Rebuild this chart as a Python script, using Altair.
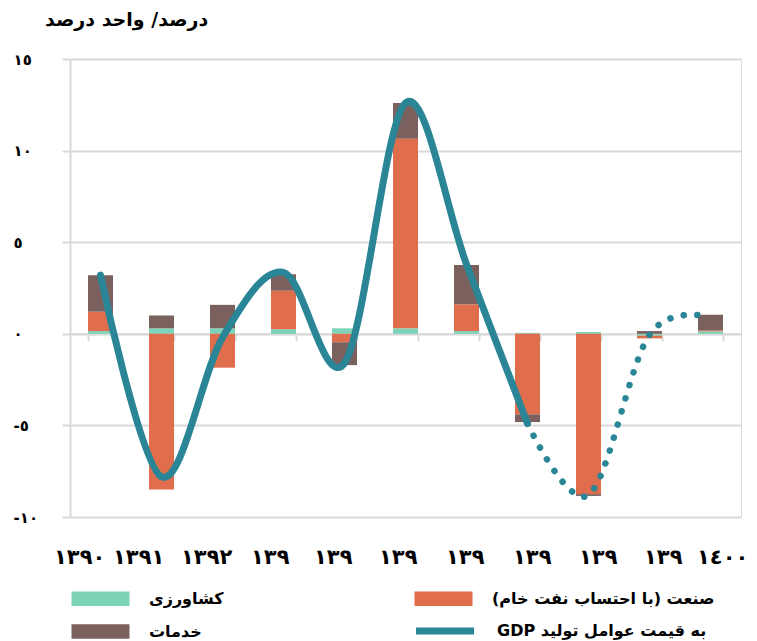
import altair as alt
import pandas as pd

# ---- data ----
years = ["1390", "1391", "1392", "1393", "1394", "1395", "1396", "1397", "1398", "1399", "1400"]
year_labels = ["١٣٩٠", "١٣٩١", "١٣٩٢", "١٣٩", "١٣٩", "١٣٩", "١٣٩", "١٣٩", "١٣٩", "١٣٩", "١٤٠٠"]
agriculture = [0.15, 0.3, 0.3, 0.25, 0.3, 0.3, 0.15, 0.05, 0.1, -0.1, 0.13]
industry = [1.05, -8.5, -1.85, 2.1, -0.46, 10.35, 1.46, -4.4, -8.75, -0.15, 0.05]
services = [2.0, 0.7, 1.28, 0.9, -1.25, 1.95, 2.14, -0.42, -0.1, 0.15, 0.86]
gdp = [3.2, -7.8, -0.2, 3.35, -1.6, 12.6, 3.8, -4.9, -8.8, -0.05, 0.9]
y_ticks = [-10, -5, 0, 5, 10, 15]
y_tick_labels = ["-١٠", "-٥", "٠", "٥", "١٠", "١٥"]
sector_names = ["کشاورزی", "صنعت (با احتساب نفت خام)\u200f", "خدمات"]
sector_colors = ["#7DD3B8", "#E06D4B", "#7B615E"]
gdp_name = "GDP به قیمت عوامل تولید"
gdp_color = "#2A8596"
title_text = "درصد/ واحد درصد"
solid_last = 7  # last year index of the solid GDP line; dotted afterwards

# label styling: the year labels in the reference are spread a little wider
# than the bars; shift (px) of each left-aligned label from its band centre
x_label_shift = [-47, -49, -42, -33, -31, -27, -21, -15, -10, -6, -14]

# ---- tables ----
rows = []
for i, yr in enumerate(years):
    for k, vals in enumerate([agriculture, industry, services]):
        rows.append({"year": yr, "sector": sector_names[k], "value": vals[i], "order": k})
bars_df = pd.DataFrame(rows)
gdp_df = pd.DataFrame({"year": years, "gdp": gdp, "series": gdp_name})
solid_df = gdp_df.iloc[: solid_last + 1]
dotted_df = gdp_df.iloc[solid_last:]

W, H = 671, 458
y_min, y_max = -10, 15
zero_from_bottom = H * (0 - y_min) / (y_max - y_min)

FONT = "DejaVu Sans"
GRID = "#d9d9d9"

x_label_expr = " : ".join(
    [f"datum.value == '{y}' ? '{l}'" for y, l in zip(years, year_labels)]
) + " : ''"
y_label_expr = " : ".join(
    [f"datum.value == {v} ? '{l}'" for v, l in zip(y_ticks, y_tick_labels)]
) + " : ''"
x_label_offset = {
    "condition": [
        {"test": f"datum.value == '{y}'", "value": s}
        for y, s in zip(years, x_label_shift)
    ],
    "value": 0,
}

x_axis = alt.Axis(
    title=None, orient="bottom", offset=-zero_from_bottom,
    domainColor=GRID, domainWidth=2, tickColor=GRID, tickWidth=2, tickSize=7,
    tickBand="extent", labelExpr=x_label_expr, labelFont=FONT, labelFontSize=21,
    labelFontWeight="bold", labelColor="black", labelPadding=206, labelAngle=0,
    labelAlign="left", labelOffset=x_label_offset,
    labelOverlap=False, grid=False,
)
y_axis = alt.Axis(
    title=None, values=y_ticks, labelExpr=y_label_expr, grid=True, gridColor=GRID,
    gridWidth=2, domainColor=GRID, domainWidth=2, tickColor=GRID, tickWidth=2,
    tickSize=8, labelAlign="left", labelBaseline="middle", labelPadding=49,
    labelFont=FONT, labelFontSize=15, labelFontWeight="bold", labelColor="black",
)
x_scale = alt.Scale(paddingInner=0.59, paddingOuter=0.295)
y_scale = alt.Scale(domain=[y_min, y_max], nice=False, zero=False)

legend_common = dict(
    title=None, orient="none", labelFont=FONT, labelFontSize=16,
    labelFontWeight="bold", labelColor="black", labelOffset=34, labelLimit=400,
    symbolSize=841, symbolOpacity=1,
)
bar_legend = alt.Legend(
    legendX=16, legendY=525, columns=2, direction="horizontal",
    columnPadding=190, rowPadding=10,
    symbolType="M-2,-0.5H2V0.5H-2Z", symbolStrokeWidth=0, **legend_common,
)
line_legend = alt.Legend(
    legendX=357, legendY=554, symbolType="M-2,0H2", symbolStrokeWidth=7,
    **legend_common,
)

bars = alt.Chart(bars_df).mark_bar().encode(
    x=alt.X("year:N", sort=years, scale=x_scale, axis=x_axis),
    y=alt.Y("value:Q", stack="zero", scale=y_scale, axis=y_axis),
    color=alt.Color("sector:N", scale=alt.Scale(domain=sector_names, range=sector_colors), legend=bar_legend),
    order=alt.Order("order:Q", sort="ascending"),
)

solid = alt.Chart(solid_df).mark_line(
    strokeWidth=7, strokeCap="round", interpolate="cardinal", tension=0
).encode(
    x=alt.X("year:N", sort=years, bandPosition=0.5),
    y=alt.Y("gdp:Q", scale=y_scale),
    stroke=alt.Stroke("series:N", scale=alt.Scale(domain=[gdp_name], range=[gdp_color]), legend=line_legend),
)

dotted = alt.Chart(dotted_df).mark_line(
    color=gdp_color, strokeWidth=6.5, strokeCap="round", strokeDash=[0.1, 13.5],
    interpolate="cardinal", tension=0
).encode(
    x=alt.X("year:N", sort=years, bandPosition=0.5),
    y=alt.Y("gdp:Q", scale=y_scale),
)

chart = alt.layer(bars, solid, dotted).properties(
    width=W, height=H,
    autosize=alt.AutoSizeParams(type="none"),
    padding={"left": 62, "top": 51, "right": 8, "bottom": 140},
    title=alt.TitleParams(
        text=title_text, anchor="start", frame="group", dx=-25, offset=22,
        font=FONT, fontSize=19, fontWeight="bold", color="black",
    ),
).configure_view(stroke=None).configure(background="white", font=FONT)

chart.save("out.html", embed_options={"renderer": "svg", "actions": False})
